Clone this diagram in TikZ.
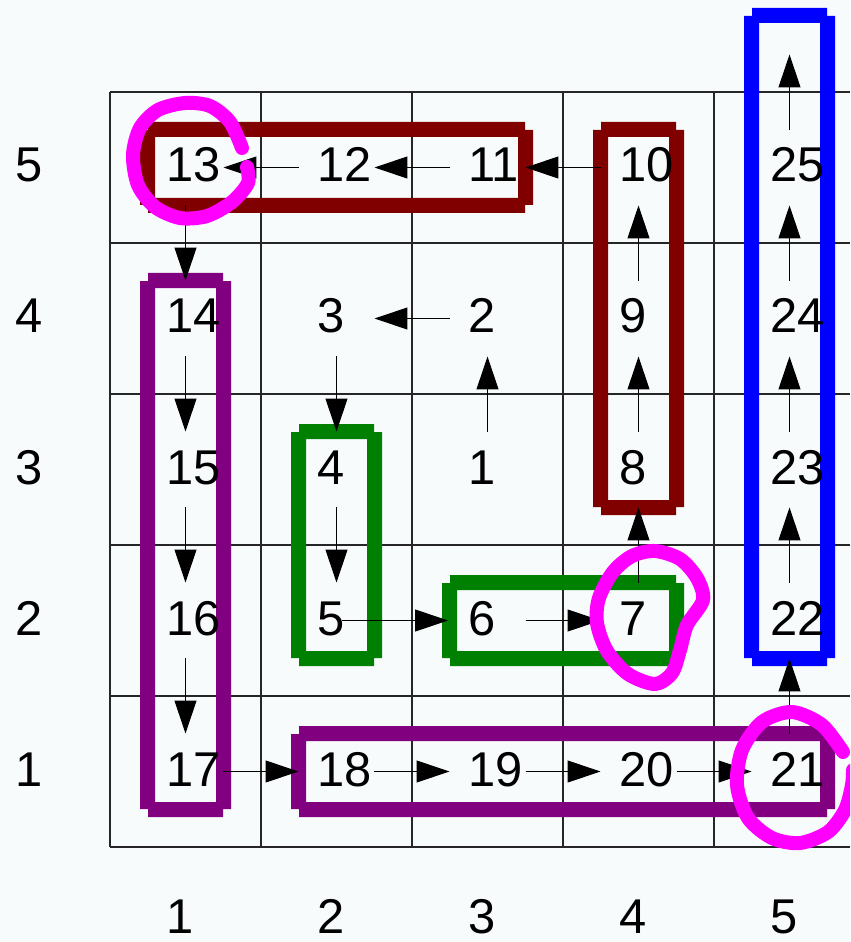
\documentclass[tikz,border=0pt]{standalone}
\usepackage{fontspec}
\setmainfont{Liberation Sans}
\usepackage{tikz}
\usetikzlibrary{arrows.meta}

\definecolor{ringbrown}{HTML}{800000}
\definecolor{ringpurple}{HTML}{800080}
\definecolor{ringgreen}{HTML}{008000}
\definecolor{ringblue}{HTML}{0000FF}
\definecolor{markpink}{HTML}{FF00FF}
\definecolor{paper}{RGB}{248,251,252}

% stepped ring round a run of cells: colour, left col, top row, right col, bottom row
\newcommand{\ringbox}[5]{%
  \pgfmathsetmacro{\ringxa}{4+151*#2}%
  \pgfmathsetmacro{\ringya}{892-151*#3}%
  \pgfmathsetmacro{\ringxb}{65+151*#4}%
  \pgfmathsetmacro{\ringyb}{953-151*#5}%
  \fill[#1, even odd rule]
    (\ringxa-7,\ringya-15) -- (\ringxb+7,\ringya-15) -- (\ringxb+7,\ringya-7) -- (\ringxb+15,\ringya-7)
    -- (\ringxb+15,\ringyb+7) -- (\ringxb+7,\ringyb+7) -- (\ringxb+7,\ringyb+15) -- (\ringxa-7,\ringyb+15)
    -- (\ringxa-7,\ringyb+7) -- (\ringxa-15,\ringyb+7) -- (\ringxa-15,\ringya-7) -- (\ringxa-7,\ringya-7) -- cycle
    (\ringxa,\ringya) rectangle (\ringxb,\ringyb);
}

\begin{document}
\begin{tikzpicture}[
  x=0.02cm, y=-0.02cm,
  font=\fontsize{27.8}{30}\selectfont,
  num/.style={anchor=base west, inner sep=0pt, xshift=-0.39cm, yshift=-0.29cm},
  gridline/.style={line width=0.6pt, black!85},
  flow/.style={-{Triangle[length=0.66cm, width=0.44cm]}, line width=0.6pt, shorten <=0.76cm, shorten >=0.76cm},
  scribble/.style={markpink, line width=0.28cm, line cap=round, line join=round},
]
  \useasboundingbox (0,0) rectangle (850,942);
  \clip (0,0) rectangle (850,942);
  \fill[paper] (0,0) rectangle (850,942);

  % Grid
  \foreach \k in {0,...,5}
    \draw[gridline] (110,{92+151*\k}) -- (850,{92+151*\k});
  \foreach \k in {0,...,4}
    \draw[gridline] ({110+151*\k},92) -- ({110+151*\k},847);

  % Rings
  \ringbox{ringbrown}{1}{5}{3}{5}
  \ringbox{ringbrown}{4}{5}{4}{3}
  \ringbox{ringblue}{5}{5.755}{5}{2}
  \ringbox{ringpurple}{1}{4}{1}{1}
  \ringbox{ringpurple}{2}{1}{5}{1}
  \ringbox{ringgreen}{2}{3}{2}{2}
  \ringbox{ringgreen}{3}{2}{4}{2}

  % Cells: number/column/row
  \foreach \num/\col/\row in {1/3/3, 2/3/4, 3/2/4, 4/2/3, 5/2/2, 6/3/2, 7/4/2, 8/4/3, 9/4/4,
      10/4/5, 11/3/5, 12/2/5, 13/1/5, 14/1/4, 15/1/3, 16/1/2, 17/1/1, 18/2/1, 19/3/1,
      20/4/1, 21/5/1, 22/5/2, 23/5/3, 24/5/4, 25/5/5} {
    \coordinate (c\num) at ({34.5+151*\col},{922.5-151*\row});
    \node[num] (n\num) at (c\num) {\num};
  }
  \coordinate (ctop) at (789.5,16.5);

  % Axis labels
  \foreach \k in {1,...,5} {
    \node[num] (row\k) at (34.5,{922.5-151*\k}) {\k};
    \node[num] (col\k) at ({34.5+151*\k},918.5) {\k};
  }

  % Path through the cells
  \foreach \a/\b in {1/2, 2/3, 3/4, 4/5, 6/7, 7/8, 8/9, 9/10, 10/11, 11/12, 12/13, 13/14,
      14/15, 15/16, 16/17, 17/18, 18/19, 19/20, 20/21, 21/22, 22/23, 23/24, 24/25}
    \draw[flow] (c\a) -- (c\b);
  \draw[flow, shorten <=0.11cm, shorten >=0.79cm] (c5) -- (c6);
  \draw[flow] (c25) -- (ctop);

  % Hand-drawn marks
  \draw[scribble] plot[smooth] coordinates {(242,148) (230,122) (210,106) (185,103) (158,110)
    (140,128) (133,155) (138,185) (155,207) (180,218) (207,216) (232,202) (248,183) (247,167)};
  \draw[scribble] plot[smooth cycle] coordinates {(703,600) (687,625) (680,650) (672,673)
    (655,684) (628,674) (607,651) (597,623) (599,598) (613,572) (632,556) (655,551) (680,559) (697,578)};
  \draw[scribble] plot[smooth] coordinates {(843,752) (822,725) (792,712) (762,722) (742,750)
    (737,785) (748,818) (772,838) (800,843) (828,832) (845,810) (852,785) (853,770)};
\end{tikzpicture}
\end{document}
